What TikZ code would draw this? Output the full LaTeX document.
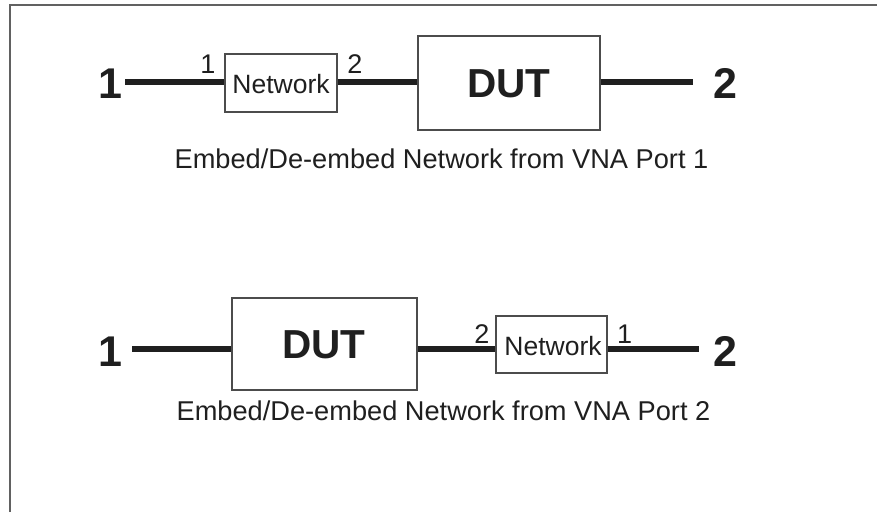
\documentclass[tikz,border=0pt]{standalone}
\usepackage{fontspec}
\setmainfont{Liberation Sans}
\begin{document}
\begin{tikzpicture}[x=1pt,y=-1pt,
  frame/.style={draw=black!62,line width=1.6pt},
  box/.style={draw=black!70,line width=1.3pt,inner sep=0pt,anchor=center},
  wire/.style={draw=black!88,line width=5.8pt},
  bignum/.style={font=\fontsize{43}{48}\selectfont\bfseries,text=black!88,inner sep=0pt,anchor=base},
  dutlbl/.style={font=\fontsize{40.5}{48}\selectfont\bfseries,text=black!88,inner sep=0pt,anchor=base},
  netlbl/.style={font=\fontsize{26.5}{30}\selectfont,text=black!88,inner sep=0pt,anchor=base},
  portlbl/.style={font=\fontsize{27}{30}\selectfont,text=black!88,inner sep=0pt,anchor=base},
  caption/.style={font=\fontsize{27.2}{30}\selectfont,text=black!88,inner sep=0pt,anchor=base}]
\useasboundingbox (0,0) rectangle (877,512);
% frame
\draw[frame] (10,512) -- (10,5) -- (877,5);

% ---------- top row ----------
\coordinate (rowA) at (0,82);
\node[box,minimum width=112pt,minimum height=58pt] (netA) at (281,83) {};
\node[netlbl] (netAt) at (281,93) {Network};
\node[box,minimum width=182pt,minimum height=94pt] (dutA) at (509,83) {};
\node[dutlbl] (dutAt) at (509,97) {DUT};
\node[bignum] (p1a) at (110,98) {1};
\node[bignum] (p2a) at (725,98) {2};
\node[portlbl] (la1) at (208,73) {1};
\node[portlbl] (la2) at (355,73) {2};
\draw[wire] ([xshift=3pt]p1a.east |- rowA) -- (netA.west |- rowA);
\draw[wire] (netA.east |- rowA) -- (dutA.west |- rowA);
\draw[wire] (dutA.east |- rowA) -- ([xshift=-20pt]p2a.west |- rowA);
\node[caption] (capA) at (441.5,168) {Embed/De-embed Network from VNA Port 1};

% ---------- bottom row ----------
\coordinate (rowB) at (0,349);
\node[box,minimum width=185pt,minimum height=92pt] (dutB) at (324.5,344) {};
\node[dutlbl] (dutBt) at (324,358) {DUT};
\node[box,minimum width=111pt,minimum height=57pt] (netB) at (551.5,344.5) {};
\node[netlbl] (netBt) at (553,355) {Network};
\node[bignum] (p1b) at (110,366) {1};
\node[bignum] (p2b) at (725,366) {2};
\node[portlbl] (lb2) at (482,343) {2};
\node[portlbl] (lb1) at (624.5,343) {1};
\draw[wire] ([xshift=10pt]p1b.east |- rowB) -- (dutB.west |- rowB);
\draw[wire] (dutB.east |- rowB) -- (netB.west |- rowB);
\draw[wire] (netB.east |- rowB) -- ([xshift=-14pt]p2b.west |- rowB);
\node[caption] (capB) at (443.5,420) {Embed/De-embed Network from VNA Port 2};
\end{tikzpicture}
\end{document}
